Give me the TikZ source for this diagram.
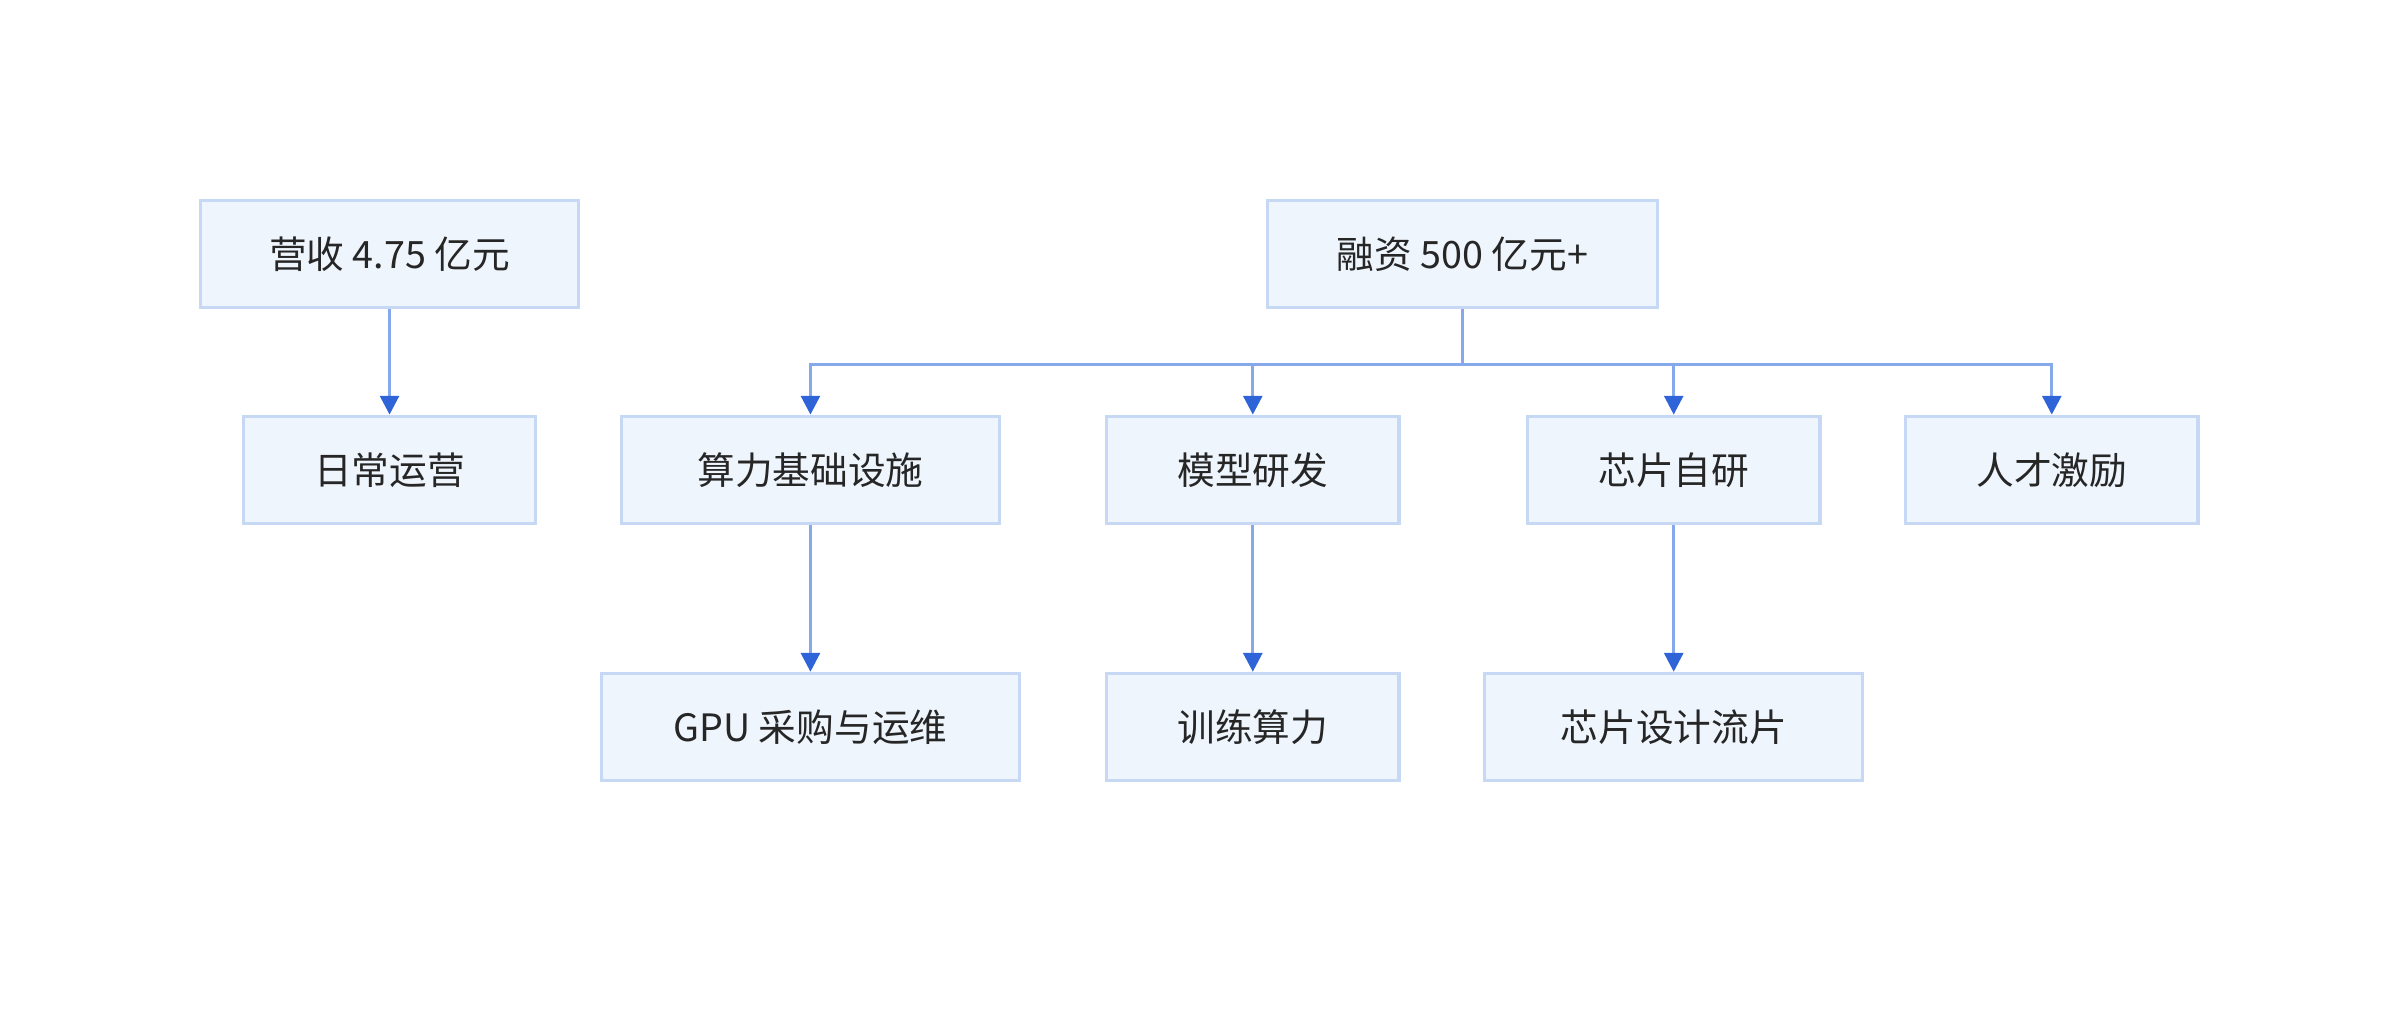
\documentclass[tikz,border=0pt]{standalone}
\usepackage{fontspec}
\newfontfamily\cjk{Noto Sans CJK SC}
\usetikzlibrary{arrows.meta}
\definecolor{boxfill}{HTML}{EFF5FD}
\definecolor{boxline}{HTML}{C6D8F4}
\definecolor{linkline}{HTML}{86A9EC}
\definecolor{tipblue}{HTML}{2F64D8}
\begin{document}
\begin{tikzpicture}[x=0.01cm,y=-0.01cm]
  \tikzstyle{item}=[draw=boxline,fill=boxfill,line width=0.6pt,minimum height=0.7cm,font=\cjk\fontsize{7}{8}\selectfont,text=black!85,inner sep=0pt]
  \tikzstyle{link}=[draw=linkline,line width=0.6pt,-{Triangle[length=3.5pt,width=3.5pt,color=tipblue]}]
  \useasboundingbox (0,0) rectangle (1568,668);
  \node [item,minimum width=2.47cm] (rev) at (254.5,166) {营收 4.75 亿元};
  \node [item,minimum width=2.55cm] (fund) at (955.5,166) {融资 500 亿元+};
  \node [item,minimum width=1.91cm] (ops) at (254.5,307) {日常运营};
  \node [item,minimum width=2.47cm] (infra) at (529.5,307) {算力基础设施};
  \node [item,minimum width=1.91cm] (model) at (818.5,307) {模型研发};
  \node [item,minimum width=1.91cm] (chip) at (1093.5,307) {芯片自研};
  \node [item,minimum width=1.91cm] (talent) at (1340.5,307) {人才激励};
  \node [item,minimum width=2.73cm] (gpu) at (529.5,475) {GPU 采购与运维};
  \node [item,minimum width=1.91cm] (train) at (818.5,475) {训练算力};
  \node [item,minimum width=2.47cm] (tape) at (1093.5,475) {芯片设计流片};
  \path[link] (rev) -- (ops);
  \foreach \t in {infra,model,chip,talent}
    \path[link] (fund.south) -- ++(0,36) -| (\t.north);
  \path[link] (infra) -- (gpu);
  \path[link] (model) -- (train);
  \path[link] (chip) -- (tape);
\end{tikzpicture}
\end{document}
